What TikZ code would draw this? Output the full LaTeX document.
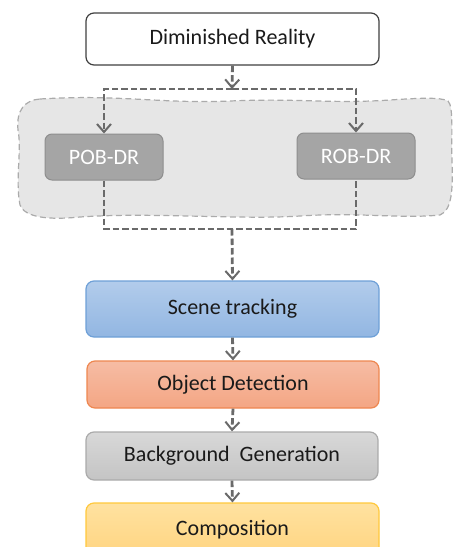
\documentclass[tikz,border=0pt]{standalone}
\usepackage{fontspec}
\setmainfont{Carlito}
\usetikzlibrary{arrows.meta}
\definecolor{linkgray}{HTML}{6A6A6A}
\definecolor{cloudfill}{HTML}{E6E6E6}
\definecolor{cloudline}{HTML}{ABABAB}
\definecolor{subfill}{HTML}{A5A5A5}
\definecolor{subline}{HTML}{8E8E8E}
\definecolor{txt}{HTML}{1A1A1A}
\tikzset{
  box/.style={draw, rounded corners=8pt, line width=1.2pt, minimum width=293pt,
    text=txt, font=\fontsize{22}{26}\selectfont, inner sep=0pt},
  subbox/.style={draw=subline, fill=subfill, rounded corners=7pt, line width=1pt,
    minimum width=118pt, minimum height=46pt, text=white,
    font=\fontsize{22}{26}\selectfont, inner sep=0pt},
  conn/.style={draw=linkgray, line width=2.8pt, dash pattern=on 6.5pt off 3pt},
  tip/.style={-{Straight Barb[length=8pt,width=14pt,line width=2pt]}},
}
\begin{document}
\begin{tikzpicture}[x=1pt,y=-1pt]
\useasboundingbox (0,0) rectangle (454,547);
\clip (0,0) rectangle (454,547);

% shaded grouping region behind the two variants
\filldraw[fill=cloudfill, draw=cloudline, line width=1.2pt, dash pattern=on 6pt off 3.5pt]
  (40,99) .. controls (120,94) and (160,104) .. (230,101)
  .. controls (300,98) and (330,104) .. (390,100)
  .. controls (420,98) and (440,97) .. (448,101)
  .. controls (454,106) and (451,140) .. (452,160)
  .. controls (453,190) and (452,210) .. (440,215)
  .. controls (400,219) and (360,212) .. (300,216)
  .. controls (240,220) and (150,212) .. (80,217)
  .. controls (50,220) and (25,218) .. (20,205)
  .. controls (15,180) and (22,150) .. (18,130)
  .. controls (16,110) and (25,100) .. (40,99) -- cycle;

\node[box, draw=black!75, fill=white, minimum height=52pt] (dr) at (232.5,39) {Diminished Reality};
\node[subbox] (pob) at (104,157) {POB-DR};
\node[subbox] (rob) at (356,156) {ROB-DR};

\node[box, draw={rgb,255:red,110;green,160;blue,215}, top color={rgb,255:red,178;green,204;blue,235},
  bottom color={rgb,255:red,146;green,182;blue,226}, minimum height=56pt] (scene) at (232.5,309) {Scene tracking};
\node[box, draw={rgb,255:red,238;green,135;blue,80}, top color={rgb,255:red,246;green,188;blue,164},
  bottom color={rgb,255:red,244;green,166;blue,132}, minimum height=47pt, minimum width=292pt] (det) at (233,384.5) {Object Detection};
\node[box, draw={rgb,255:red,170;green,170;blue,170}, top color={rgb,255:red,216;green,216;blue,216},
  bottom color={rgb,255:red,196;green,196;blue,196}, minimum height=48pt, minimum width=292pt] (bg) at (232,456) {Background\ \ Generation};
\node[box, draw={rgb,255:red,255;green,200;blue,60}, top color={rgb,255:red,255;green,226;blue,160},
  bottom color={rgb,255:red,255;green,212;blue,128}, minimum height=54pt] (comp) at (232.5,530) {Composition};

\coordinate (split) at (232,89);
\coordinate (merge) at (232,229);

\draw[conn, tip] (dr.south) -- (split);
\draw[conn, tip] (split) -| (pob.north);
\draw[conn, tip] (split) -| (rob.north);
\draw[conn] (pob.south) |- (merge) -| (rob.south);
\draw[conn, tip] (merge) -- (scene.north);
\draw[conn, tip] (scene.south) -- (det.north);
\draw[conn, tip] (det.south) -- (bg.north);
\draw[conn, tip] (bg.south) -- (comp.north);
\end{tikzpicture}
\end{document}
